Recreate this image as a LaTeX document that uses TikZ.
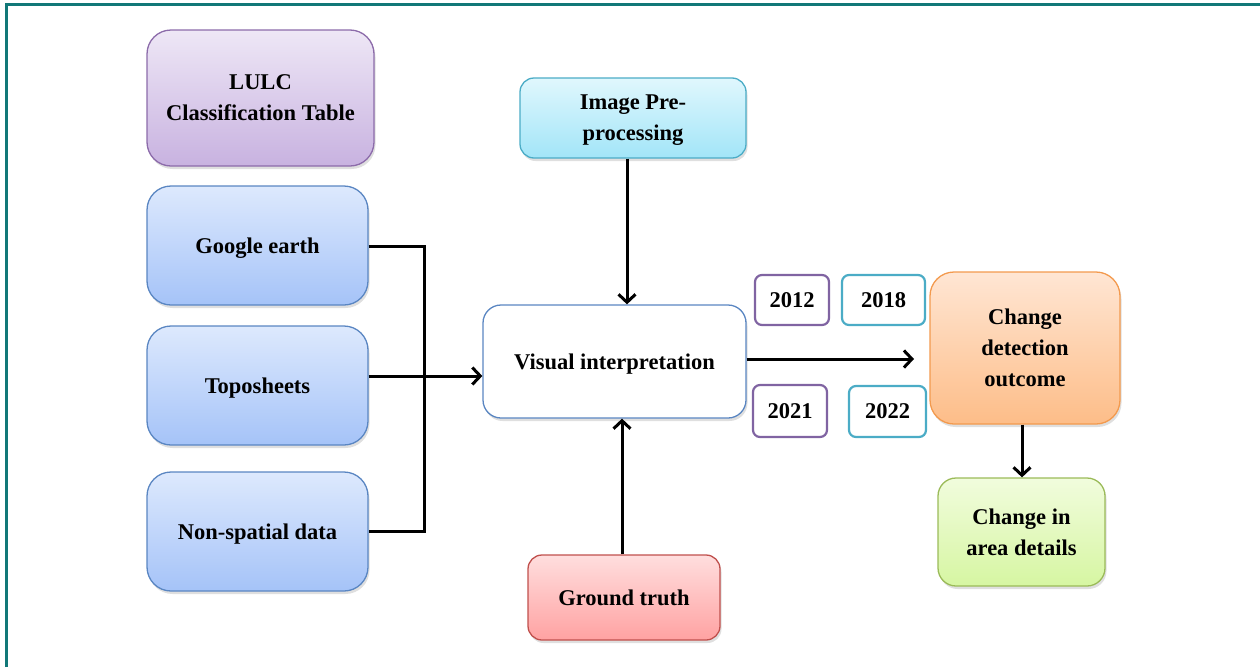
\documentclass[tikz,border=0pt]{standalone}
\usepackage{fontspec}
\setmainfont{Liberation Serif}
\usetikzlibrary{arrows.meta,shadows}

\definecolor{frameteal}{HTML}{117878}
\definecolor{purpleline}{HTML}{8C6BAA}
\definecolor{purpletop}{HTML}{EEE7F6}
\definecolor{purplebot}{HTML}{C8B2E0}
\definecolor{blueline}{HTML}{5A86C2}
\definecolor{bluetop}{HTML}{DDE9FD}
\definecolor{bluebot}{HTML}{A5C3F8}
\definecolor{cyanline}{HTML}{4BACC6}
\definecolor{cyantop}{HTML}{E0F7FD}
\definecolor{cyanbot}{HTML}{A2E5F8}
\definecolor{redline}{HTML}{C0504D}
\definecolor{redtop}{HTML}{FFDEDE}
\definecolor{redbot}{HTML}{FFA2A2}
\definecolor{orangeline}{HTML}{F39A4E}
\definecolor{orangetop}{HTML}{FFE6D4}
\definecolor{orangebot}{HTML}{FDBD88}
\definecolor{greenline}{HTML}{9BBB59}
\definecolor{greentop}{HTML}{F1FCDD}
\definecolor{greenbot}{HTML}{D6F6A2}
\definecolor{yearpurple}{HTML}{8064A2}

\tikzset{
  base/.style={rounded corners=24pt, line width=1.3pt, align=center,
    font=\fontsize{22.5}{31}\selectfont\bfseries, inner sep=0pt, text depth=0pt,
    drop shadow={opacity=0.25, shadow xshift=1.5pt, shadow yshift=-3pt}},
  purplebox/.style={base, draw=purpleline, top color=purpletop, bottom color=purplebot},
  bluebox/.style={base, draw=blueline, top color=bluetop, bottom color=bluebot},
  cyanbox/.style={base, rounded corners=14pt, draw=cyanline, top color=cyantop, bottom color=cyanbot},
  redbox/.style={base, rounded corners=14pt, draw=redline, top color=redtop, bottom color=redbot},
  orangebox/.style={base, draw=orangeline, top color=orangetop, bottom color=orangebot},
  greenbox/.style={base, rounded corners=18pt, draw=greenline, top color=greentop, bottom color=greenbot},
  whitebox/.style={base, rounded corners=18pt, draw=blueline, fill=white},
  yearbox/.style={rounded corners=7pt, line width=2.2pt, fill=white, inner sep=0pt,
    font=\fontsize{22.5}{26}\selectfont\bfseries},
  link/.style={line width=3pt, black},
  arrowlink/.style={link, -{Straight Barb[length=8pt,width=17pt,line width=3pt]}}
}

\begin{document}
\begin{tikzpicture}[x=1pt,y=-1pt]
  \useasboundingbox (0,0) rectangle (1260,667);

  % outer frame (open on the right and bottom)
  \draw[frameteal, line width=3pt] (6.5,667) -- (6.5,4.5) -- (1260,4.5);

  % input sources
  \node[purplebox, minimum width=227pt, minimum height=136pt] (lulc) at (260.5,98)
    {LULC\\Classification Table};
  \node[bluebox, minimum width=221pt, minimum height=119pt] (google) at (257.5,245.5)
    {Google earth};
  \node[bluebox, minimum width=221pt, minimum height=119pt] (topo) at (257.5,385.5)
    {Toposheets};
  \node[bluebox, minimum width=221pt, minimum height=119pt] (nonsp) at (257.5,531.5)
    {Non-spatial data};

  % central processing
  \node[cyanbox, minimum width=226pt, minimum height=80pt] (prep) at (633,118)
    {Image Pre-\\processing};
  \node[whitebox, minimum width=263pt, minimum height=113pt] (visual) at (614.5,361.5)
    {Visual interpretation};
  \node[redbox, minimum width=192pt, minimum height=85pt] (ground) at (624,597.5)
    {Ground truth};

  % outputs
  \node[orangebox, minimum width=190pt, minimum height=152pt] (change) at (1025,348)
    {Change\\detection\\outcome};
  \node[greenbox, minimum width=167pt, minimum height=108pt] (area) at (1021.5,532)
    {Change in\\area details};

  % study years
  \node[yearbox, draw=yearpurple, minimum width=74pt, minimum height=50pt] (y2012) at (792,300) {2012};
  \node[yearbox, draw=cyanline, minimum width=83pt, minimum height=50pt] (y2018) at (883.5,300) {2018};
  \node[yearbox, draw=yearpurple, minimum width=74pt, minimum height=52pt] (y2021) at (790,411) {2021};
  \node[yearbox, draw=cyanline, minimum width=77pt, minimum height=51pt] (y2022) at (887.5,411.5) {2022};

  % connectors
  \draw[link] (google.east |- 0,246) -- (424,246) -- (424,531) -- (nonsp.east |- 0,531);
  \draw[arrowlink] (topo.east |- 0,376) -- (visual.west |- 0,376);
  \draw[arrowlink] (prep.south -| 627,0) -- (visual.north -| 627,0);
  \draw[arrowlink] (ground.north -| 622,0) -- (visual.south -| 622,0);
  \coordinate (cdin) at (914,359);
  \draw[arrowlink] (visual.east |- 0,359) -- (cdin);
  \draw[arrowlink] (change.south -| 1022,0) -- (area.north -| 1022,0);
\end{tikzpicture}
\end{document}
